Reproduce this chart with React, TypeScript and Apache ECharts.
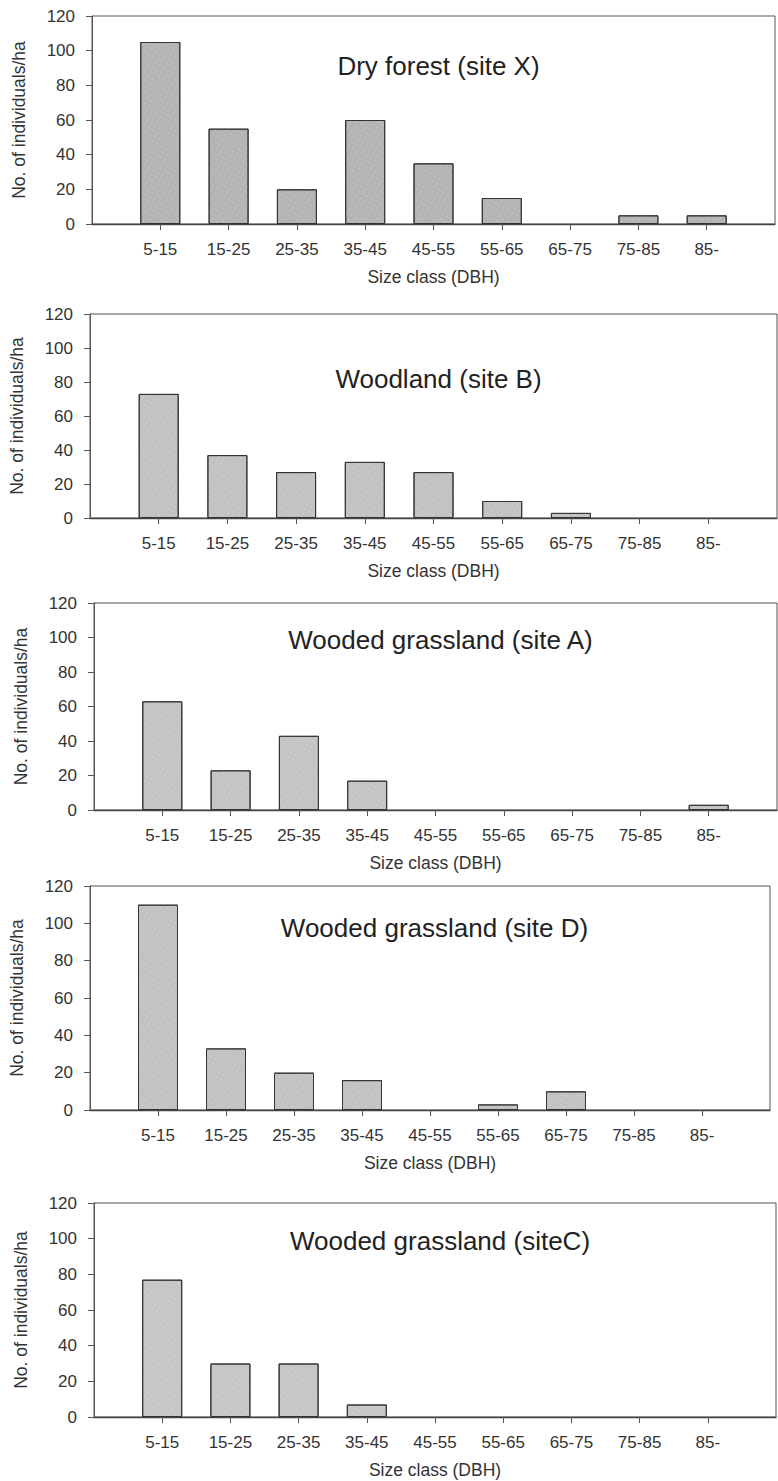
import React, { useEffect, useRef } from "react";
import * as echarts from "echarts";

// ---- data ----
const categories = ["5-15", "15-25", "25-35", "35-45", "45-55", "55-65", "65-75", "75-85", "85-"];
const panelTitles = [
  "Dry forest (site X)",
  "Woodland (site B)",
  "Wooded grassland (site A)",
  "Wooded grassland (site D)",
  "Wooded grassland (siteC)",
];
const dryForestX = [105, 55, 20, 60, 35, 15, 0, 5, 5];
const woodlandB = [73, 37, 27, 33, 27, 10, 3, 0, 0];
const woodedGrasslandA = [63, 23, 43, 17, 0, 0, 0, 0, 3];
const woodedGrasslandD = [110, 33, 20, 16, 0, 3, 10, 0, 0];
const woodedGrasslandC = [77, 30, 30, 7, 0, 0, 0, 0, 0];
const yMin = 0;
const yMax = 120;
const yStep = 20;
const xAxisName = "Size class (DBH)";
const yAxisName = "No. of individuals/ha";

const seriesValues = [dryForestX, woodlandB, woodedGrasslandA, woodedGrasslandD, woodedGrasslandC];

// ---- layout (pixels) ----
const layout = [
  { top: 16, bottom: 224, left: 92, right: 775, titleY: 63, fill: "#b4b4b4" },
  { top: 314, bottom: 518, left: 90, right: 777, titleY: 376, fill: "#c2c2c2" },
  { top: 603, bottom: 810, left: 94, right: 777, titleY: 637, fill: "#c4c4c4" },
  { top: 886, bottom: 1110, left: 89, right: 770, titleY: 925, fill: "#c2c2c2" },
  { top: 1203, bottom: 1417, left: 94, right: 776, titleY: 1238, fill: "#c6c6c6" },
];
const W = 778;
const H = 1481;
const FONT = "'Liberation Sans', Arial, Helvetica, sans-serif";
const TEXT = "#333";
const AXIS = "#555";

export default function App() {
  const ref = useRef<HTMLDivElement>(null);
  useEffect(() => {
    if (!ref.current) return;
    const chart = echarts.init(ref.current, null, { renderer: "svg" });
    const catPos = categories.map((_, i) => i + 1);
    const grids: any[] = [];
    const xAxes: any[] = [];
    const yAxes: any[] = [];
    const series: any[] = [];
    const titles: any[] = [];
    layout.forEach((p, i) => {
      grids.push({
        left: p.left,
        top: p.top,
        width: p.right - p.left,
        height: p.bottom - p.top,
        show: true,
        borderColor: AXIS,
        borderWidth: 1,
        backgroundColor: "transparent",
      });
      xAxes.push({
        type: "value",
        gridIndex: i,
        min: 0,
        max: categories.length + 1,
        interval: 1,
        axisLine: { show: true, onZero: false, lineStyle: { color: "#444", width: 1.3 } },
        axisTick: { show: true, length: 6, customValues: catPos, lineStyle: { color: AXIS } },
        axisLabel: {
          customValues: catPos,
          formatter: (v: number) => categories[Math.round(v) - 1] ?? "",
          fontSize: 17,
          color: TEXT,
          fontFamily: FONT,
          margin: 17,
        },
        splitLine: { show: false },
        name: xAxisName,
        nameLocation: "middle",
        nameGap: 44,
        nameTextStyle: { fontSize: 17.5, color: TEXT, fontFamily: FONT },
      });
      yAxes.push({
        type: "value",
        gridIndex: i,
        min: yMin,
        max: yMax,
        interval: yStep,
        axisLine: { show: true, lineStyle: { color: AXIS, width: 1 } },
        axisTick: { show: true, length: 6, lineStyle: { color: AXIS } },
        axisLabel: { fontSize: 17, color: TEXT, fontFamily: FONT, margin: 17 },
        splitLine: { show: false },
        name: yAxisName,
        nameLocation: "middle",
        nameGap: 64,
        nameRotate: 90,
        nameTextStyle: { fontSize: 17.5, color: TEXT, fontFamily: FONT },
      });
      series.push({
        type: "bar",
        xAxisIndex: i,
        yAxisIndex: i,
        barWidth: 40,
        data: seriesValues[i].map((v, j) => [j + 1, v === 0 ? "-" : v]),
        itemStyle: {
          color: p.fill,
          borderColor: "#333",
          borderWidth: 1,
          decal: {
            symbol: "circle",
            symbolSize: 0.6,
            color: "rgba(255,255,255,0.35)",
            dashArrayX: [3, 2],
            dashArrayY: [2, 3],
            rotation: 0.5,
          },
        },
        silent: true,
      });
      titles.push({
        text: panelTitles[i],
        left: (p.left + p.right) / 2,
        top: p.titleY - 15,
        textAlign: "center",
        textStyle: { fontSize: 26, fontWeight: "normal", color: "#222", fontFamily: FONT },
      });
    });
    chart.setOption({
      animation: false,
      backgroundColor: "#fff",
      title: titles,
      grid: grids,
      xAxis: xAxes,
      yAxis: yAxes,
      series,
    });
    return () => chart.dispose();
  }, []);
  return (
    <div
      ref={ref}
      style={{ position: "absolute", left: 0, top: 0, width: W, height: H, background: "#fff" }}
    />
  );
}
